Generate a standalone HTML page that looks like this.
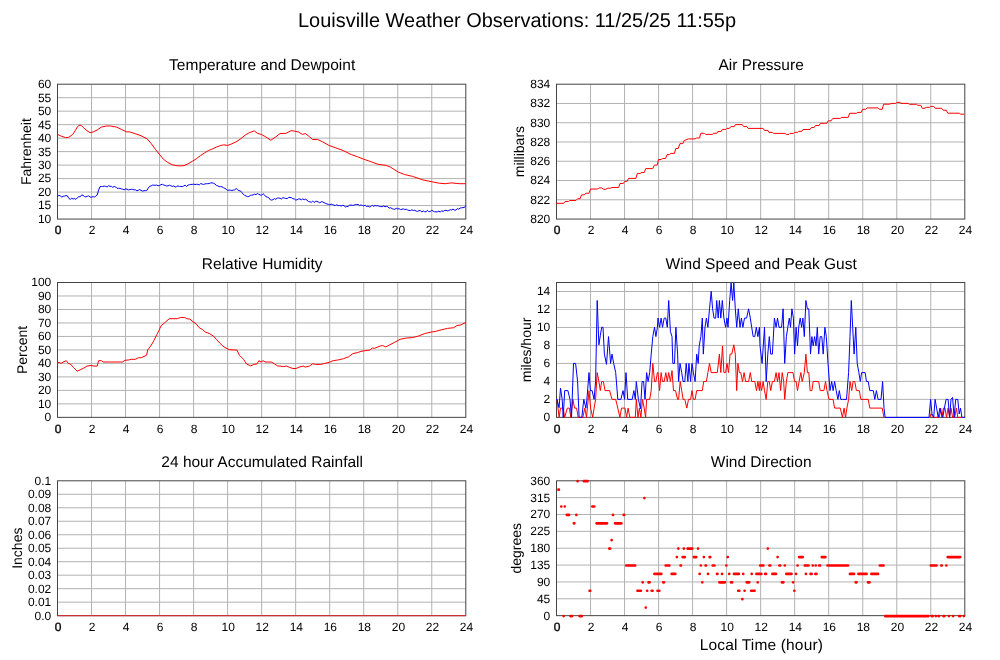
<!DOCTYPE html>
<html><head><meta charset="utf-8"><title>Louisville Weather Observations</title>
<style>html,body{margin:0;padding:0;background:#fff;}svg{display:block;}text{font-family:'Liberation Sans', Arial, Helvetica, sans-serif;fill:#000;text-rendering:geometricPrecision;}</style>
</head><body>
<svg width="1000" height="660" viewBox="0 0 1000 660">
<rect width="1000" height="660" fill="#fff"/>
<text x="517" y="27" font-size="20" text-anchor="middle" textLength="438" lengthAdjust="spacingAndGlyphs">Louisville Weather Observations: 11/25/25 11:55p</text>
<path d="M91.53 84.2V219.05M125.55 84.2V219.05M159.57 84.2V219.05M193.60 84.2V219.05M227.62 84.2V219.05M261.65 84.2V219.05M295.67 84.2V219.05M329.70 84.2V219.05M363.72 84.2V219.05M397.75 84.2V219.05M431.77 84.2V219.05M57.5 205.56H465.8M57.5 192.08H465.8M57.5 178.60H465.8M57.5 165.11H465.8M57.5 151.62H465.8M57.5 138.14H465.8M57.5 124.66H465.8M57.5 111.17H465.8M57.5 97.69H465.8" stroke="#b2b2b2" stroke-width="1" fill="none"/>
<rect x="57.5" y="84.2" width="408.3" height="134.85" fill="none" stroke="#444" stroke-width="1"/>
<text x="262.15" y="70" font-size="15.5" text-anchor="middle">Temperature and Dewpoint</text>
<text transform="translate(51.3 223) scale(1.0 1)" font-size="12" text-anchor="end">10</text>
<text transform="translate(51.3 209) scale(1.0 1)" font-size="12" text-anchor="end">15</text>
<text transform="translate(51.3 196) scale(1.0 1)" font-size="12" text-anchor="end">20</text>
<text transform="translate(51.3 182) scale(1.0 1)" font-size="12" text-anchor="end">25</text>
<text transform="translate(51.3 169) scale(1.0 1)" font-size="12" text-anchor="end">30</text>
<text transform="translate(51.3 156) scale(1.0 1)" font-size="12" text-anchor="end">35</text>
<text transform="translate(51.3 142) scale(1.0 1)" font-size="12" text-anchor="end">40</text>
<text transform="translate(51.3 129) scale(1.0 1)" font-size="12" text-anchor="end">45</text>
<text transform="translate(51.3 115) scale(1.0 1)" font-size="12" text-anchor="end">50</text>
<text transform="translate(51.3 102) scale(1.0 1)" font-size="12" text-anchor="end">55</text>
<text transform="translate(51.3 88) scale(1.0 1)" font-size="12" text-anchor="end">60</text>
<text transform="translate(58.1 234) scale(1.0 1)" font-size="12" text-anchor="middle" stroke="#000" stroke-width="0.35">0</text>
<text transform="translate(92.1 234) scale(1.0 1)" font-size="12" text-anchor="middle">2</text>
<text transform="translate(126.1 234) scale(1.0 1)" font-size="12" text-anchor="middle">4</text>
<text transform="translate(160.2 234) scale(1.0 1)" font-size="12" text-anchor="middle">6</text>
<text transform="translate(194.2 234) scale(1.0 1)" font-size="12" text-anchor="middle">8</text>
<text transform="translate(228.2 234) scale(1.0 1)" font-size="12" text-anchor="middle">10</text>
<text transform="translate(262.2 234) scale(1.0 1)" font-size="12" text-anchor="middle">12</text>
<text transform="translate(296.3 234) scale(1.0 1)" font-size="12" text-anchor="middle">14</text>
<text transform="translate(330.3 234) scale(1.0 1)" font-size="12" text-anchor="middle">16</text>
<text transform="translate(364.3 234) scale(1.0 1)" font-size="12" text-anchor="middle">18</text>
<text transform="translate(398.4 234) scale(1.0 1)" font-size="12" text-anchor="middle">20</text>
<text transform="translate(432.4 234) scale(1.0 1)" font-size="12" text-anchor="middle">22</text>
<text transform="translate(466.4 234) scale(1.0 1)" font-size="12" text-anchor="middle">24</text>
<text transform="translate(31.0 151.6) rotate(-90)" font-size="14" text-anchor="middle">Fahrenheit</text>
<path d="M590.52 84.2V219.05M624.55 84.2V219.05M658.58 84.2V219.05M692.60 84.2V219.05M726.62 84.2V219.05M760.65 84.2V219.05M794.67 84.2V219.05M828.70 84.2V219.05M862.72 84.2V219.05M896.75 84.2V219.05M930.77 84.2V219.05M556.5 199.79H964.8M556.5 180.52H964.8M556.5 161.26H964.8M556.5 141.99H964.8M556.5 122.73H964.8M556.5 103.46H964.8" stroke="#b2b2b2" stroke-width="1" fill="none"/>
<rect x="556.5" y="84.2" width="408.3" height="134.85" fill="none" stroke="#444" stroke-width="1"/>
<text x="761.15" y="70" font-size="15.5" text-anchor="middle">Air Pressure</text>
<text transform="translate(550.3 223) scale(1.0 1)" font-size="12" text-anchor="end">820</text>
<text transform="translate(550.3 204) scale(1.0 1)" font-size="12" text-anchor="end">822</text>
<text transform="translate(550.3 184) scale(1.0 1)" font-size="12" text-anchor="end">824</text>
<text transform="translate(550.3 165) scale(1.0 1)" font-size="12" text-anchor="end">826</text>
<text transform="translate(550.3 146) scale(1.0 1)" font-size="12" text-anchor="end">828</text>
<text transform="translate(550.3 127) scale(1.0 1)" font-size="12" text-anchor="end">830</text>
<text transform="translate(550.3 107) scale(1.0 1)" font-size="12" text-anchor="end">832</text>
<text transform="translate(550.3 88) scale(1.0 1)" font-size="12" text-anchor="end">834</text>
<text transform="translate(557.1 234) scale(1.0 1)" font-size="12" text-anchor="middle" stroke="#000" stroke-width="0.35">0</text>
<text transform="translate(591.1 234) scale(1.0 1)" font-size="12" text-anchor="middle">2</text>
<text transform="translate(625.1 234) scale(1.0 1)" font-size="12" text-anchor="middle">4</text>
<text transform="translate(659.2 234) scale(1.0 1)" font-size="12" text-anchor="middle">6</text>
<text transform="translate(693.2 234) scale(1.0 1)" font-size="12" text-anchor="middle">8</text>
<text transform="translate(727.2 234) scale(1.0 1)" font-size="12" text-anchor="middle">10</text>
<text transform="translate(761.2 234) scale(1.0 1)" font-size="12" text-anchor="middle">12</text>
<text transform="translate(795.3 234) scale(1.0 1)" font-size="12" text-anchor="middle">14</text>
<text transform="translate(829.3 234) scale(1.0 1)" font-size="12" text-anchor="middle">16</text>
<text transform="translate(863.3 234) scale(1.0 1)" font-size="12" text-anchor="middle">18</text>
<text transform="translate(897.4 234) scale(1.0 1)" font-size="12" text-anchor="middle">20</text>
<text transform="translate(931.4 234) scale(1.0 1)" font-size="12" text-anchor="middle">22</text>
<text transform="translate(965.4 234) scale(1.0 1)" font-size="12" text-anchor="middle">24</text>
<text transform="translate(524.0 151.6) rotate(-90)" font-size="14" text-anchor="middle">millibars</text>
<path d="M91.53 282.5V417.35M125.55 282.5V417.35M159.57 282.5V417.35M193.60 282.5V417.35M227.62 282.5V417.35M261.65 282.5V417.35M295.67 282.5V417.35M329.70 282.5V417.35M363.72 282.5V417.35M397.75 282.5V417.35M431.77 282.5V417.35M57.5 403.87H465.8M57.5 390.38H465.8M57.5 376.90H465.8M57.5 363.41H465.8M57.5 349.93H465.8M57.5 336.44H465.8M57.5 322.96H465.8M57.5 309.47H465.8M57.5 295.99H465.8" stroke="#b2b2b2" stroke-width="1" fill="none"/>
<rect x="57.5" y="282.5" width="408.3" height="134.85" fill="none" stroke="#444" stroke-width="1"/>
<text x="262.15" y="269" font-size="15.5" text-anchor="middle">Relative Humidity</text>
<text transform="translate(51.3 421) scale(1.0 1)" font-size="12" text-anchor="end">0</text>
<text transform="translate(51.3 408) scale(1.0 1)" font-size="12" text-anchor="end">10</text>
<text transform="translate(51.3 394) scale(1.0 1)" font-size="12" text-anchor="end">20</text>
<text transform="translate(51.3 381) scale(1.0 1)" font-size="12" text-anchor="end">30</text>
<text transform="translate(51.3 367) scale(1.0 1)" font-size="12" text-anchor="end">40</text>
<text transform="translate(51.3 354) scale(1.0 1)" font-size="12" text-anchor="end">50</text>
<text transform="translate(51.3 340) scale(1.0 1)" font-size="12" text-anchor="end">60</text>
<text transform="translate(51.3 327) scale(1.0 1)" font-size="12" text-anchor="end">70</text>
<text transform="translate(51.3 313) scale(1.0 1)" font-size="12" text-anchor="end">80</text>
<text transform="translate(51.3 300) scale(1.0 1)" font-size="12" text-anchor="end">90</text>
<text transform="translate(51.3 286) scale(1.0 1)" font-size="12" text-anchor="end">100</text>
<text transform="translate(58.1 433) scale(1.0 1)" font-size="12" text-anchor="middle" stroke="#000" stroke-width="0.35">0</text>
<text transform="translate(92.1 433) scale(1.0 1)" font-size="12" text-anchor="middle">2</text>
<text transform="translate(126.1 433) scale(1.0 1)" font-size="12" text-anchor="middle">4</text>
<text transform="translate(160.2 433) scale(1.0 1)" font-size="12" text-anchor="middle">6</text>
<text transform="translate(194.2 433) scale(1.0 1)" font-size="12" text-anchor="middle">8</text>
<text transform="translate(228.2 433) scale(1.0 1)" font-size="12" text-anchor="middle">10</text>
<text transform="translate(262.2 433) scale(1.0 1)" font-size="12" text-anchor="middle">12</text>
<text transform="translate(296.3 433) scale(1.0 1)" font-size="12" text-anchor="middle">14</text>
<text transform="translate(330.3 433) scale(1.0 1)" font-size="12" text-anchor="middle">16</text>
<text transform="translate(364.3 433) scale(1.0 1)" font-size="12" text-anchor="middle">18</text>
<text transform="translate(398.4 433) scale(1.0 1)" font-size="12" text-anchor="middle">20</text>
<text transform="translate(432.4 433) scale(1.0 1)" font-size="12" text-anchor="middle">22</text>
<text transform="translate(466.4 433) scale(1.0 1)" font-size="12" text-anchor="middle">24</text>
<text transform="translate(26.6 349.9) rotate(-90)" font-size="14" text-anchor="middle">Percent</text>
<path d="M590.52 282.5V417.35M624.55 282.5V417.35M658.58 282.5V417.35M692.60 282.5V417.35M726.62 282.5V417.35M760.65 282.5V417.35M794.67 282.5V417.35M828.70 282.5V417.35M862.72 282.5V417.35M896.75 282.5V417.35M930.77 282.5V417.35M556.5 399.37H964.8M556.5 381.39H964.8M556.5 363.41H964.8M556.5 345.43H964.8M556.5 327.45H964.8M556.5 309.47H964.8M556.5 291.49H964.8" stroke="#b2b2b2" stroke-width="1" fill="none"/>
<rect x="556.5" y="282.5" width="408.3" height="134.85" fill="none" stroke="#444" stroke-width="1"/>
<text x="761.15" y="269" font-size="15.5" text-anchor="middle">Wind Speed and Peak Gust</text>
<text transform="translate(550.3 421) scale(1.0 1)" font-size="12" text-anchor="end">0</text>
<text transform="translate(550.3 403) scale(1.0 1)" font-size="12" text-anchor="end">2</text>
<text transform="translate(550.3 385) scale(1.0 1)" font-size="12" text-anchor="end">4</text>
<text transform="translate(550.3 367) scale(1.0 1)" font-size="12" text-anchor="end">6</text>
<text transform="translate(550.3 349) scale(1.0 1)" font-size="12" text-anchor="end">8</text>
<text transform="translate(550.3 331) scale(1.0 1)" font-size="12" text-anchor="end">10</text>
<text transform="translate(550.3 313) scale(1.0 1)" font-size="12" text-anchor="end">12</text>
<text transform="translate(550.3 295) scale(1.0 1)" font-size="12" text-anchor="end">14</text>
<text transform="translate(557.1 433) scale(1.0 1)" font-size="12" text-anchor="middle" stroke="#000" stroke-width="0.35">0</text>
<text transform="translate(591.1 433) scale(1.0 1)" font-size="12" text-anchor="middle">2</text>
<text transform="translate(625.1 433) scale(1.0 1)" font-size="12" text-anchor="middle">4</text>
<text transform="translate(659.2 433) scale(1.0 1)" font-size="12" text-anchor="middle">6</text>
<text transform="translate(693.2 433) scale(1.0 1)" font-size="12" text-anchor="middle">8</text>
<text transform="translate(727.2 433) scale(1.0 1)" font-size="12" text-anchor="middle">10</text>
<text transform="translate(761.2 433) scale(1.0 1)" font-size="12" text-anchor="middle">12</text>
<text transform="translate(795.3 433) scale(1.0 1)" font-size="12" text-anchor="middle">14</text>
<text transform="translate(829.3 433) scale(1.0 1)" font-size="12" text-anchor="middle">16</text>
<text transform="translate(863.3 433) scale(1.0 1)" font-size="12" text-anchor="middle">18</text>
<text transform="translate(897.4 433) scale(1.0 1)" font-size="12" text-anchor="middle">20</text>
<text transform="translate(931.4 433) scale(1.0 1)" font-size="12" text-anchor="middle">22</text>
<text transform="translate(965.4 433) scale(1.0 1)" font-size="12" text-anchor="middle">24</text>
<text transform="translate(531.2 349.9) rotate(-90)" font-size="14" text-anchor="middle">miles/hour</text>
<path d="M91.53 480.8V615.65M125.55 480.8V615.65M159.57 480.8V615.65M193.60 480.8V615.65M227.62 480.8V615.65M261.65 480.8V615.65M295.67 480.8V615.65M329.70 480.8V615.65M363.72 480.8V615.65M397.75 480.8V615.65M431.77 480.8V615.65M57.5 602.16H465.8M57.5 588.68H465.8M57.5 575.19H465.8M57.5 561.71H465.8M57.5 548.23H465.8M57.5 534.74H465.8M57.5 521.25H465.8M57.5 507.77H465.8M57.5 494.28H465.8" stroke="#b2b2b2" stroke-width="1" fill="none"/>
<rect x="57.5" y="480.8" width="408.3" height="134.85" fill="none" stroke="#444" stroke-width="1"/>
<text x="262.15" y="467" font-size="15.5" text-anchor="middle">24 hour Accumulated Rainfall</text>
<text transform="translate(51.3 620) scale(1.0 1)" font-size="12" text-anchor="end">0.0</text>
<text transform="translate(51.3 606) scale(1.0 1)" font-size="12" text-anchor="end">0.01</text>
<text transform="translate(51.3 593) scale(1.0 1)" font-size="12" text-anchor="end">0.02</text>
<text transform="translate(51.3 579) scale(1.0 1)" font-size="12" text-anchor="end">0.03</text>
<text transform="translate(51.3 566) scale(1.0 1)" font-size="12" text-anchor="end">0.04</text>
<text transform="translate(51.3 552) scale(1.0 1)" font-size="12" text-anchor="end">0.05</text>
<text transform="translate(51.3 539) scale(1.0 1)" font-size="12" text-anchor="end">0.06</text>
<text transform="translate(51.3 525) scale(1.0 1)" font-size="12" text-anchor="end">0.07</text>
<text transform="translate(51.3 512) scale(1.0 1)" font-size="12" text-anchor="end">0.08</text>
<text transform="translate(51.3 498) scale(1.0 1)" font-size="12" text-anchor="end">0.09</text>
<text transform="translate(51.3 485) scale(1.0 1)" font-size="12" text-anchor="end">0.1</text>
<text transform="translate(58.1 631) scale(1.0 1)" font-size="12" text-anchor="middle" stroke="#000" stroke-width="0.35">0</text>
<text transform="translate(92.1 631) scale(1.0 1)" font-size="12" text-anchor="middle">2</text>
<text transform="translate(126.1 631) scale(1.0 1)" font-size="12" text-anchor="middle">4</text>
<text transform="translate(160.2 631) scale(1.0 1)" font-size="12" text-anchor="middle">6</text>
<text transform="translate(194.2 631) scale(1.0 1)" font-size="12" text-anchor="middle">8</text>
<text transform="translate(228.2 631) scale(1.0 1)" font-size="12" text-anchor="middle">10</text>
<text transform="translate(262.2 631) scale(1.0 1)" font-size="12" text-anchor="middle">12</text>
<text transform="translate(296.3 631) scale(1.0 1)" font-size="12" text-anchor="middle">14</text>
<text transform="translate(330.3 631) scale(1.0 1)" font-size="12" text-anchor="middle">16</text>
<text transform="translate(364.3 631) scale(1.0 1)" font-size="12" text-anchor="middle">18</text>
<text transform="translate(398.4 631) scale(1.0 1)" font-size="12" text-anchor="middle">20</text>
<text transform="translate(432.4 631) scale(1.0 1)" font-size="12" text-anchor="middle">22</text>
<text transform="translate(466.4 631) scale(1.0 1)" font-size="12" text-anchor="middle">24</text>
<text transform="translate(22.2 548.2) rotate(-90)" font-size="14" text-anchor="middle">Inches</text>
<path d="M590.52 480.8V615.65M624.55 480.8V615.65M658.58 480.8V615.65M692.60 480.8V615.65M726.62 480.8V615.65M760.65 480.8V615.65M794.67 480.8V615.65M828.70 480.8V615.65M862.72 480.8V615.65M896.75 480.8V615.65M930.77 480.8V615.65M556.5 598.79H964.8M556.5 581.94H964.8M556.5 565.08H964.8M556.5 548.23H964.8M556.5 531.37H964.8M556.5 514.51H964.8M556.5 497.66H964.8" stroke="#b2b2b2" stroke-width="1" fill="none"/>
<rect x="556.5" y="480.8" width="408.3" height="134.85" fill="none" stroke="#444" stroke-width="1"/>
<text x="761.15" y="467" font-size="15.5" text-anchor="middle">Wind Direction</text>
<text transform="translate(550.3 620) scale(1.0 1)" font-size="12" text-anchor="end">0</text>
<text transform="translate(550.3 603) scale(1.0 1)" font-size="12" text-anchor="end">45</text>
<text transform="translate(550.3 586) scale(1.0 1)" font-size="12" text-anchor="end">90</text>
<text transform="translate(550.3 569) scale(1.0 1)" font-size="12" text-anchor="end">135</text>
<text transform="translate(550.3 552) scale(1.0 1)" font-size="12" text-anchor="end">180</text>
<text transform="translate(550.3 535) scale(1.0 1)" font-size="12" text-anchor="end">225</text>
<text transform="translate(550.3 518) scale(1.0 1)" font-size="12" text-anchor="end">270</text>
<text transform="translate(550.3 502) scale(1.0 1)" font-size="12" text-anchor="end">315</text>
<text transform="translate(550.3 485) scale(1.0 1)" font-size="12" text-anchor="end">360</text>
<text transform="translate(557.1 631) scale(1.0 1)" font-size="12" text-anchor="middle" stroke="#000" stroke-width="0.35">0</text>
<text transform="translate(591.1 631) scale(1.0 1)" font-size="12" text-anchor="middle">2</text>
<text transform="translate(625.1 631) scale(1.0 1)" font-size="12" text-anchor="middle">4</text>
<text transform="translate(659.2 631) scale(1.0 1)" font-size="12" text-anchor="middle">6</text>
<text transform="translate(693.2 631) scale(1.0 1)" font-size="12" text-anchor="middle">8</text>
<text transform="translate(727.2 631) scale(1.0 1)" font-size="12" text-anchor="middle">10</text>
<text transform="translate(761.2 631) scale(1.0 1)" font-size="12" text-anchor="middle">12</text>
<text transform="translate(795.3 631) scale(1.0 1)" font-size="12" text-anchor="middle">14</text>
<text transform="translate(829.3 631) scale(1.0 1)" font-size="12" text-anchor="middle">16</text>
<text transform="translate(863.3 631) scale(1.0 1)" font-size="12" text-anchor="middle">18</text>
<text transform="translate(897.4 631) scale(1.0 1)" font-size="12" text-anchor="middle">20</text>
<text transform="translate(931.4 631) scale(1.0 1)" font-size="12" text-anchor="middle">22</text>
<text transform="translate(965.4 631) scale(1.0 1)" font-size="12" text-anchor="middle">24</text>
<text transform="translate(521.0 548.2) rotate(-90)" font-size="14" text-anchor="middle">degrees</text>
<text x="761.3" y="650" font-size="15.5" text-anchor="middle" textLength="123.3" lengthAdjust="spacing">Local Time (hour)</text>
<polyline points="57.5,134.4 61.6,136.3 65.6,137.6 68.7,137.3 72.8,134.4 75.4,130.3 77.3,127.1 78.7,125.5 80.1,125.2 81.5,125.7 83.6,127.6 86.0,130.0 90.1,132.7 93.2,131.9 97.2,130.0 101.3,127.1 106.4,126.0 110.5,126.0 116.6,127.1 121.7,129.5 126.8,131.9 129.8,131.9 134.9,133.6 141.0,135.7 147.1,138.9 151.2,143.5 155.3,149.2 159.6,154.6 163.6,159.4 167.7,162.4 171.8,164.6 175.9,165.6 179.9,165.9 184.0,165.6 188.1,163.8 192.2,161.3 196.2,158.9 200.3,155.7 204.4,153.0 208.5,150.5 212.5,148.9 216.6,147.0 220.7,145.4 223.8,144.9 227.8,145.4 231.9,143.8 237.0,141.4 241.1,138.4 245.1,135.2 249.2,132.7 254.3,130.9 257.4,133.3 261.6,134.6 265.7,136.8 270.8,140.3 275.9,136.8 280.0,133.6 286.1,133.3 291.2,130.6 294.2,131.1 298.3,131.9 302.4,134.4 305.5,133.6 309.5,136.8 312.6,139.5 317.7,139.5 322.8,141.9 328.9,145.4 335.0,147.6 343.1,150.5 351.3,154.6 357.4,156.7 363.7,159.2 369.8,161.3 378.0,164.3 386.1,165.4 390.2,167.0 398.4,172.1 404.5,174.5 412.6,176.4 422.8,179.9 431.0,181.6 439.1,183.2 445.2,183.7 451.3,182.9 459.5,183.7 465.8,183.7" fill="none" stroke="#ff0000" stroke-width="1" stroke-linejoin="round"/>
<polyline points="57.5,196.2 58.9,195.4 60.3,195.9 61.8,197.0 63.2,196.3 64.6,196.1 66.0,195.5 67.4,195.9 68.8,198.4 70.3,199.4 71.7,198.2 73.1,199.0 74.5,198.6 75.9,199.3 77.3,197.8 78.8,196.7 80.2,196.8 81.6,195.0 83.0,195.1 84.4,196.7 85.9,196.9 87.3,196.3 88.7,195.9 90.1,197.1 91.5,197.2 92.9,196.6 94.4,197.0 95.8,196.2 97.2,195.0 98.6,190.1 100.0,186.7 101.4,186.5 102.9,186.4 104.3,186.1 105.7,186.4 107.1,187.0 108.5,185.7 110.0,186.3 111.4,186.4 112.8,187.4 114.2,186.4 115.6,186.9 117.0,188.3 118.5,188.3 119.9,188.3 121.3,188.9 122.7,189.2 124.1,189.9 125.6,189.0 127.0,189.1 128.4,189.9 129.8,189.6 131.2,189.3 132.6,189.4 134.1,189.9 135.5,189.8 136.9,190.7 138.3,190.3 139.7,189.6 141.1,190.4 142.6,191.1 144.0,190.7 145.4,190.6 146.8,190.5 148.2,188.1 149.7,186.3 151.1,185.9 152.5,185.1 153.9,185.2 155.3,185.3 156.7,185.1 158.2,185.7 159.6,185.5 161.0,184.6 162.4,184.3 163.8,185.0 165.2,185.5 166.7,186.0 168.1,185.8 169.5,185.2 170.9,185.8 172.3,186.4 173.8,185.9 175.2,187.0 176.6,186.6 178.0,185.9 179.4,186.4 180.8,186.5 182.3,186.6 183.7,186.0 185.1,185.2 186.5,186.6 187.9,185.1 189.3,184.8 190.8,184.4 192.2,184.4 193.6,184.2 195.0,184.5 196.4,184.3 197.9,184.4 199.3,184.9 200.7,183.6 202.1,184.0 203.5,184.5 204.9,183.9 206.4,183.7 207.8,183.7 209.2,183.5 210.6,183.0 212.0,182.8 213.4,183.2 214.9,183.9 216.3,185.4 217.7,185.8 219.1,186.6 220.5,186.6 222.0,186.8 223.4,187.6 224.8,188.4 226.2,189.1 227.6,190.5 229.0,190.0 230.5,190.2 231.9,190.5 233.3,190.1 234.7,189.9 236.1,188.5 237.5,189.6 239.0,190.7 240.4,190.8 241.8,192.5 243.2,194.2 244.6,195.3 246.1,196.0 247.5,196.7 248.9,196.5 250.3,195.4 251.7,195.2 253.1,194.9 254.6,194.2 256.0,194.6 257.4,193.6 258.8,194.3 260.2,195.0 261.7,195.1 263.1,193.7 264.5,194.9 265.9,196.7 267.3,197.1 268.7,197.6 270.2,199.7 271.6,200.1 273.0,199.7 274.4,198.6 275.8,199.3 277.2,198.1 278.7,198.0 280.1,198.3 281.5,198.9 282.9,197.7 284.3,198.0 285.8,198.5 287.2,198.6 288.6,197.5 290.0,197.4 291.4,197.7 292.8,198.7 294.3,198.9 295.7,200.0 297.1,199.8 298.5,198.9 299.9,199.0 301.3,199.8 302.8,198.9 304.2,199.7 305.6,199.2 307.0,200.2 308.4,201.4 309.9,201.8 311.3,202.3 312.7,201.0 314.1,202.5 315.5,201.4 316.9,201.3 318.4,202.0 319.8,202.8 321.2,201.8 322.6,201.8 324.0,202.6 325.4,203.3 326.9,203.9 328.3,204.3 329.7,204.8 331.1,204.1 332.5,204.6 334.0,205.2 335.4,205.5 336.8,204.8 338.2,205.6 339.6,205.5 341.0,206.0 342.5,205.4 343.9,205.5 345.3,206.9 346.7,206.6 348.1,206.4 349.5,205.2 351.0,205.1 352.4,205.3 353.8,205.3 355.2,204.6 356.6,204.5 358.1,204.5 359.5,205.6 360.9,204.9 362.3,205.4 363.7,205.9 365.1,205.2 366.6,206.6 368.0,206.0 369.4,206.9 370.8,206.6 372.2,205.2 373.6,206.3 375.1,205.5 376.5,205.9 377.9,205.6 379.3,206.4 380.7,206.6 382.2,206.7 383.6,206.0 385.0,206.7 386.4,206.4 387.8,206.7 389.2,208.2 390.7,207.7 392.1,208.7 393.5,209.1 394.9,209.3 396.3,208.3 397.7,208.8 399.2,208.8 400.6,209.6 402.0,209.2 403.4,208.9 404.8,209.5 406.3,209.2 407.7,210.0 409.1,210.5 410.5,210.5 411.9,209.8 413.3,210.6 414.8,210.3 416.2,211.1 417.6,211.4 419.0,210.6 420.4,210.6 421.9,212.0 423.3,210.9 424.7,211.8 426.1,211.7 427.5,210.4 428.9,211.8 430.4,211.4 431.8,210.2 433.2,211.2 434.6,211.8 436.0,211.8 437.4,211.8 438.9,211.1 440.3,212.1 441.7,210.7 443.1,211.5 444.5,210.5 446.0,210.3 447.4,210.9 448.8,210.5 450.2,209.7 451.6,210.0 453.0,209.1 454.5,210.1 455.9,210.1 457.3,208.6 458.7,209.2 460.1,208.1 461.5,207.8 463.0,207.6 464.4,207.5 465.8,205.7" fill="none" stroke="#0000ff" stroke-width="1" stroke-linejoin="round"/>
<polyline points="556.0,203.3 563.7,203.3 565.1,201.5 568.6,201.5 569.6,200.5 575.9,200.5 577.7,198.7 580.1,198.7 581.5,194.9 584.3,194.9 585.7,193.3 588.9,193.3 590.6,189.0 597.3,189.0 599.4,187.9 601.5,187.9 603.6,189.3 605.7,189.3 607.8,188.2 610.6,188.2 612.0,187.5 618.6,187.5 620.0,183.5 623.2,183.5 624.9,181.3 627.1,181.3 628.5,178.4 635.9,178.4 637.3,173.5 640.1,173.5 641.5,172.5 644.3,172.5 645.7,168.6 652.7,168.6 654.4,165.1 657.2,165.1 658.6,159.5 661.1,159.5 662.5,158.5 665.6,158.5 667.0,154.6 669.5,154.6 670.9,153.4 674.4,153.4 675.8,148.5 678.2,148.5 680.0,143.6 682.8,143.6 684.2,140.6 688.4,138.9 695.1,138.9 696.5,138.0 699.6,138.0 700.7,133.3 704.5,133.3 705.6,134.4 712.2,134.4 713.6,133.3 716.8,133.3 717.8,131.5 721.0,131.5 722.4,129.4 725.9,129.4 726.9,128.4 729.4,128.4 730.8,126.6 734.3,126.6 735.3,124.6 742.3,124.6 743.7,126.6 746.9,126.6 748.2,128.4 756.1,128.4 763.1,128.4 764.5,130.4 768.0,130.4 769.0,132.4 772.5,132.4 773.6,133.4 785.1,133.4 786.2,134.4 789.0,134.4 790.0,133.4 793.5,133.4 794.6,132.4 797.7,132.4 798.8,131.3 801.9,131.3 803.0,129.5 810.0,129.5 811.4,127.5 814.2,127.5 815.6,125.5 819.1,125.5 820.4,123.3 824.1,123.3 826.9,123.3 828.3,120.8 831.1,120.8 832.8,118.4 840.2,118.4 841.6,117.4 848.2,117.4 849.6,113.3 856.3,113.3 857.7,112.4 861.2,112.4 862.6,109.3 865.7,109.3 867.1,107.9 878.0,107.9 879.4,109.3 882.2,109.3 883.6,104.2 889.2,104.2 891.9,103.4 895.7,103.4 896.8,102.4 899.9,102.4 901.0,103.4 908.2,103.4 909.4,104.3 916.6,104.3 917.7,105.3 920.8,105.3 922.3,108.3 925.0,108.3 926.1,107.3 929.5,107.3 930.7,106.4 933.7,106.4 935.2,108.3 941.7,108.3 943.2,110.2 946.2,110.2 947.8,113.2 959.2,113.2 960.7,114.2 964.3,114.2" fill="none" stroke="#ff0000" stroke-width="1" stroke-linejoin="round"/>
<polyline points="57.0,363.0 59.1,362.4 61.1,363.4 63.2,362.0 66.3,360.7 68.3,363.4 70.4,364.0 73.5,367.5 77.2,371.2 80.7,369.6 83.8,368.1 86.9,366.1 91.0,365.5 94.1,366.1 97.2,366.1 98.6,360.7 101.3,360.7 103.4,362.0 110.6,362.0 122.5,362.0 125.0,360.3 129.1,359.9 131.2,359.3 135.3,359.3 138.4,357.8 141.5,357.6 146.6,355.2 147.7,350.0 150.8,345.9 153.8,340.7 156.9,334.5 159.0,330.4 161.1,325.7 164.2,323.2 169.3,318.7 177.5,318.7 180.6,317.4 184.8,317.6 186.8,318.7 189.9,319.1 193.0,321.8 196.1,323.8 199.2,327.7 202.3,329.4 205.4,332.1 209.5,333.5 213.6,336.2 216.7,339.7 219.8,343.2 223.9,346.9 229.1,349.6 234.2,350.0 236.9,350.0 239.4,355.2 243.5,359.3 246.6,364.0 250.7,365.9 253.8,364.4 256.9,364.0 258.9,360.7 261.0,362.0 263.1,360.7 265.1,362.0 271.3,362.0 274.4,363.8 277.5,365.9 283.7,366.5 286.8,366.1 289.8,367.5 292.9,368.5 296.0,368.5 299.1,367.1 303.2,366.1 305.3,367.1 309.4,366.1 312.5,363.8 315.6,364.4 320.8,364.4 324.9,363.4 329.0,362.4 333.1,360.7 338.3,359.9 343.4,358.7 348.6,356.8 352.7,353.7 357.8,352.5 360.9,351.4 363.0,351.0 370.2,350.0 372.3,347.9 374.3,348.4 380.5,345.9 382.6,345.5 385.7,346.9 389.8,344.8 394.9,342.2 400.1,339.3 406.3,338.0 412.5,337.6 418.6,336.0 424.8,333.5 431.0,332.1 435.1,331.5 441.3,329.8 447.5,328.4 453.7,327.7 456.8,325.7 460.9,324.9 464.0,323.2 466.0,322.8" fill="none" stroke="#ff0000" stroke-width="1" stroke-linejoin="round"/>
<polyline points="556.0,399.4 557.0,399.4 559.1,417.4 560.5,408.1 563.2,408.1 564.7,417.4 567.3,408.1 569.4,408.1 570.8,417.4 572.9,399.4 574.5,408.1 576.6,408.1 578.2,417.4 582.8,417.4 584.8,408.1 586.5,417.4 589.0,390.6 590.6,408.1 592.7,417.4 594.1,408.1 595.6,399.4 597.2,372.6 598.9,381.5 600.3,390.6 601.7,381.5 603.4,381.5 605.0,390.6 609.6,390.6 612.0,399.4 615.7,399.4 617.8,408.1 619.9,417.4 621.5,408.1 625.0,408.1 626.5,417.4 628.1,408.1 629.8,417.4 635.3,417.4 636.3,399.4 638.0,417.4 639.4,408.1 640.9,417.4 642.5,399.4 644.2,408.1 645.6,417.4 646.6,399.4 649.7,399.4 651.2,390.6 652.8,363.4 654.5,381.5 655.9,381.5 657.4,372.6 658.0,372.6 659.6,390.6 661.1,372.6 662.5,381.5 664.2,381.5 665.8,372.6 667.3,381.5 668.7,372.6 670.4,381.5 672.0,370.6 673.5,390.6 675.5,390.6 677.6,399.4 678.6,399.4 680.2,381.5 681.7,390.6 683.1,399.4 684.8,399.4 686.8,408.1 688.5,399.4 690.6,399.4 692.0,390.6 693.4,399.4 695.1,399.4 696.7,390.6 702.3,390.6 703.7,381.5 706.4,381.5 707.9,372.6 709.5,363.4 711.2,372.6 717.3,372.6 719.4,354.1 720.8,372.6 722.5,345.9 723.9,372.6 725.6,372.6 727.0,363.4 728.5,372.6 730.1,354.1 731.8,354.1 733.8,344.8 735.3,354.1 736.7,390.6 737.9,363.4 739.4,372.6 740.8,372.6 742.5,381.5 744.1,372.6 745.6,381.5 748.6,381.5 750.3,372.6 751.7,381.5 754.8,381.5 756.5,390.6 757.9,381.5 759.4,390.6 760.0,381.5 761.6,390.6 763.1,381.5 764.5,390.6 766.2,399.4 767.8,381.5 769.3,381.5 770.7,390.6 772.4,381.5 774.4,381.5 776.1,372.6 777.5,381.5 779.0,372.6 780.6,390.6 782.2,372.6 783.7,381.5 784.7,399.4 786.4,381.5 787.8,372.6 793.0,372.6 794.6,381.5 796.1,381.5 797.5,390.6 799.1,381.5 800.8,372.6 802.2,381.5 804.3,372.6 805.9,354.1 807.4,372.6 808.8,372.6 810.1,390.6 811.9,390.6 813.2,381.5 818.7,381.5 820.2,390.6 823.9,390.6 825.5,381.5 827.0,390.6 829.0,399.4 833.1,399.4 834.6,408.1 840.3,408.1 842.4,417.4 844.1,408.1 845.5,417.4 846.9,408.1 848.6,399.4 850.0,381.5 851.7,390.6 853.1,381.5 854.8,381.5 856.4,390.6 859.3,390.6 860.9,399.4 862.0,399.4 868.2,399.4 869.8,408.1 882.2,408.1 884.0,417.4" fill="none" stroke="#ff0000" stroke-width="1" stroke-linejoin="round"/>
<polyline points="930.0,417.4 931.0,413.9 933.7,417.4 939.3,417.4 940.7,408.1 941.9,417.4 943.4,408.1 945.0,408.1 946.5,417.4 948.1,408.1 949.6,417.4 951.0,408.1 952.6,417.4 954.7,417.4 956.4,408.1 957.8,417.4 965.0,417.4" fill="none" stroke="#ff0000" stroke-width="1" stroke-linejoin="round"/>
<polyline points="556.0,399.4 557.0,399.4 559.1,407.7 560.5,388.1 562.2,399.4 563.2,417.4 564.7,390.6 567.9,390.6 570.0,399.4 571.5,417.4 573.5,363.4 575.6,363.4 577.6,381.5 579.1,417.4 581.8,417.4 583.8,399.4 585.9,408.1 586.9,399.4 589.0,372.6 590.4,390.6 592.1,390.6 594.1,399.4 595.6,381.5 597.2,300.5 598.9,344.8 600.3,335.6 601.7,327.3 603.0,327.3 604.4,354.1 606.5,364.4 608.5,336.6 610.6,363.4 612.0,354.1 613.7,363.4 615.7,372.6 617.8,399.4 620.9,399.4 623.0,390.6 624.6,399.4 626.0,372.6 627.7,399.4 632.2,399.4 633.9,390.6 635.3,399.4 636.3,381.5 638.4,399.4 640.5,408.7 642.1,381.5 643.6,381.5 645.0,399.4 646.6,372.6 648.1,381.5 649.7,372.6 651.2,354.1 652.8,336.6 654.5,327.3 655.9,336.6 657.4,327.3 658.0,318.1 659.6,327.3 661.1,318.1 662.5,327.3 664.2,318.1 665.8,318.1 667.3,327.3 668.7,300.5 670.4,331.4 672.0,336.6 672.8,363.4 674.5,363.4 675.9,327.3 677.6,354.1 678.6,381.5 680.0,363.4 681.7,372.6 683.1,381.5 684.8,381.5 686.2,363.4 687.9,381.5 688.9,363.4 690.6,381.5 692.0,363.4 693.4,372.6 695.1,381.5 696.7,354.1 698.2,363.4 699.2,345.9 700.9,336.6 702.3,318.1 703.3,354.1 705.0,327.3 706.4,318.1 707.9,327.3 709.5,308.8 711.2,291.3 712.6,308.8 714.0,318.1 715.7,318.1 716.7,300.5 718.2,318.1 719.4,300.5 720.8,318.1 722.3,300.5 723.9,318.1 725.6,327.3 727.0,318.1 728.0,327.3 729.7,300.5 731.1,283.0 732.6,300.5 733.8,283.0 735.3,308.8 736.7,327.3 738.3,308.8 740.0,327.3 741.4,318.1 742.9,327.3 744.5,318.1 746.6,318.1 748.6,308.8 750.3,318.1 751.7,327.3 753.2,336.6 754.8,336.6 756.3,327.3 757.9,336.6 759.4,327.3 760.0,345.9 762.1,363.4 764.5,327.3 766.2,381.5 767.8,354.1 769.3,336.6 770.7,354.1 772.4,354.1 774.4,318.1 776.1,327.3 777.5,318.1 779.0,327.3 781.6,327.3 783.1,308.8 784.7,363.4 786.4,336.6 787.8,327.3 789.3,318.1 790.5,327.3 791.9,308.8 793.4,318.1 794.6,354.1 796.1,327.3 797.5,345.9 798.7,327.3 800.2,318.1 801.6,327.3 802.9,318.1 804.3,336.6 805.9,300.5 807.4,308.8 808.8,308.8 810.5,354.1 811.9,336.6 813.2,345.9 814.6,336.6 816.0,345.9 817.3,327.3 818.7,354.1 820.2,336.6 821.8,336.6 823.2,354.1 824.9,327.3 826.3,336.6 828.0,363.4 830.0,390.6 831.7,381.5 833.1,390.6 834.6,381.5 836.2,390.6 837.9,399.4 839.3,390.6 840.8,399.4 842.4,399.4 846.5,399.4 848.6,372.6 850.0,336.6 851.3,300.5 852.7,327.3 854.1,354.1 855.8,327.3 857.2,363.4 858.9,372.6 860.3,381.5 861.6,372.6 862.0,372.6 865.1,372.6 866.5,381.5 868.2,381.5 869.8,390.6 873.3,390.6 874.8,399.4 876.4,390.6 878.1,399.4 881.0,399.4 882.6,381.5 884.0,408.1 885.1,417.4 929.0,417.4 930.6,399.4 932.0,413.9 933.7,417.4 935.1,399.4 936.6,408.1 938.2,417.4 939.9,408.1 941.3,413.9 942.8,417.4 944.4,408.1 946.1,399.4 948.1,399.4 949.6,417.4 951.0,399.4 952.6,397.4 954.1,417.4 955.7,399.4 957.8,399.4 959.2,413.9 960.5,408.1 961.9,417.4 965.0,417.4" fill="none" stroke="#0000ff" stroke-width="1" stroke-linejoin="round"/>
<path d="M577.62 481.20h0.01M583.84 481.20H587.50M558.41 489.63H558.89M644.38 498.06h0.01M561.30 506.48h0.01M564.80 506.48h0.01M592.32 506.48H594.29M566.89 514.91H569.06M576.35 514.91h0.01M613.02 514.91h0.01M623.69 514.91H624.17M573.88 523.34H574.36M596.56 523.34H607.00M615.00 523.34H621.42M611.64 540.20h0.01M609.28 548.62H610.18M626.24 565.48H635.19M654.43 573.91H657.66M642.69 582.34h0.01M648.49 582.34H649.61M589.57 590.77H590.26M637.47 590.77H640.92M647.14 590.77h0.01M651.67 590.77H652.57M657.53 590.77h0.01M645.76 607.62h0.01M563.63 616.05h0.01M570.49 616.05H572.03M579.61 616.05H581.78M678.35 548.62h0.01M683.86 548.62h0.01M687.54 548.62H692.26M698.06 548.62h0.01M676.86 557.05h0.01M682.66 557.05H684.84M693.90 557.05H696.29M703.89 557.05h0.01M709.58 557.05H710.27M727.73 557.05h0.01M665.71 565.48H669.37M680.55 565.48H681.02M700.81 565.48h0.01M705.56 565.48H706.04M712.76 565.48H714.51M726.36 565.48h0.01M760.16 565.48h0.01M659.35 573.91H661.31M671.64 573.91H675.30M699.65 573.91h0.01M708.02 573.91h0.01M717.00 573.91H717.48M722.01 573.91h0.01M729.22 573.91h0.01M733.96 573.91H738.89M743.21 573.91h0.01M751.68 573.91h0.01M756.43 573.91H759.66M663.17 582.34H664.07M702.30 582.34h0.01M719.33 582.34H724.90M730.99 582.34H732.11M746.68 582.34H749.27M757.72 582.34h0.01M659.27 590.77h0.01M738.20 590.77H739.31M744.58 590.77h0.01M751.13 590.77H754.57M742.36 599.19h0.01M767.84 548.62h0.01M777.59 557.05h0.01M799.08 557.05H802.74M821.76 557.05H825.42M761.35 565.48H763.31M769.40 565.48H770.31M779.37 565.48H780.27M784.80 565.48h0.01M797.52 565.48h0.01M804.80 565.48H808.46M812.78 565.48h0.01M815.74 565.48h0.01M819.21 565.48H820.12M827.48 565.48H848.09M761.27 573.91h0.01M765.17 573.91H766.07M772.37 573.91H776.03M786.36 573.91H791.50M796.03 573.91h0.01M805.89 573.91h0.01M810.52 573.91H811.64M815.40 573.91H816.51M849.95 573.91H854.03M858.43 573.91H861.66M781.91 582.34H783.45M793.06 582.34h0.01M855.67 582.34H856.57M794.34 590.77h0.01M947.71 557.05H960.27M879.88 565.48H883.54M930.75 565.48H936.53M941.35 565.48H941.83M946.36 565.48h0.01M863.35 573.91H866.58M871.40 573.91H878.03M868.01 582.34H869.55M885.18 616.05H928.48M931.60 616.05H932.71M935.87 616.05h0.01M938.59 616.05H939.07M943.47 616.05H944.37M948.90 616.05h0.01M953.14 616.05h0.01M959.15 616.05H960.27M963.84 616.05h0.01" stroke="#ff0000" stroke-width="2.7" stroke-linecap="round" fill="none"/>
<polyline points="57.5,615.6 465.8,615.6" fill="none" stroke="#c83232" stroke-width="1.4" stroke-linejoin="round"/>
</svg>
</body></html>
